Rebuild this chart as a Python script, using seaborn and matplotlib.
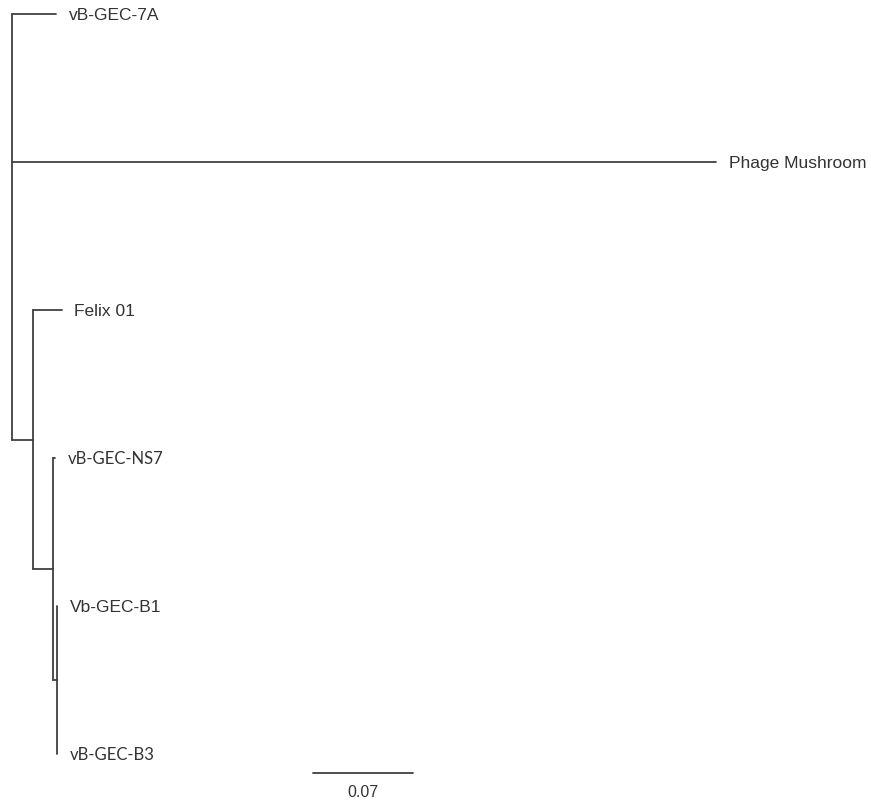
import numpy as np
import pandas as pd
import matplotlib
matplotlib.use("Agg")
import matplotlib.pyplot as plt
import seaborn as sns

# ---- tree data ----
leaf_names = ["vB-GEC-7A", "Phage Mushroom", "Felix 01", "vB-GEC-NS7", "Vb-GEC-B1", "vB-GEC-B3"]
leaf_parent = ["root", "root", "A", "B", "C", "C"]
leaf_length = [0.0308, 0.4928, 0.0203, 0.0017, 0.0003, 0.0003]
internal_nodes = ["A", "B", "C"]
internal_parent = ["root", "A", "B"]
internal_length = [0.0145, 0.0140, 0.0030]
scale_value = 0.07
scale_label = "0.07"

sns.set_theme(style="white")
plt.rcParams['font.family'] = ['Liberation Sans', 'DejaVu Sans']

# ---- compute layout ----
parent = {n: p for n, p in zip(leaf_names, leaf_parent)}
parent.update({n: p for n, p in zip(internal_nodes, internal_parent)})
blen = {n: l for n, l in zip(leaf_names, leaf_length)}
blen.update({n: l for n, l in zip(internal_nodes, internal_length)})
blen["root"] = 0.0

children = {}
for n, p in parent.items():
    children.setdefault(p, []).append(n)

xpos = {"root": 0.0}
def set_x(n):
    for c in children.get(n, []):
        xpos[c] = xpos[n] + blen[c]
        set_x(c)
set_x("root")

ypos = {n: i for i, n in enumerate(leaf_names)}
def set_y(n):
    if n in ypos:
        return ypos[n]
    ys = [set_y(c) for c in children[n]]
    ypos[n] = (min(ys) + max(ys)) / 2
    return ypos[n]
set_y("root")

rows = []
seg = 0
for n, p in parent.items():
    rows.append(dict(seg=seg, x=xpos[p], y=ypos[n]))
    rows.append(dict(seg=seg, x=xpos[n], y=ypos[n]))
    seg += 1
for n, ch in children.items():
    ys = [ypos[c] for c in ch]
    rows.append(dict(seg=seg, x=xpos[n], y=min(ys)))
    rows.append(dict(seg=seg, x=xpos[n], y=max(ys)))
    seg += 1
df = pd.DataFrame(rows)

# ---- figure ----
W, H = 871, 802
fig = plt.figure(figsize=(W / 100, H / 100), dpi=100)
ax = fig.add_axes([0, 0, 1, 1])
lc = "#404040"
sns.lineplot(data=df, x="x", y="y", units="seg", estimator=None, sort=False,
             color=lc, linewidth=1.3, ax=ax, legend=False)

px = 0.0007  # data units per pixel
ax.set_xlim(-12 * px, (W - 12) * px)
row = 148.0
ax.set_ylim((H - 14) / row, -14 / row)
ax.axis("off")

calibri_like = {"vB-GEC-NS7", "vB-GEC-B3"}
for n in leaf_names:
    if n in calibri_like:
        fam, fs = ['Lato', 'DejaVu Sans'], 12
    else:
        fam, fs = ['Liberation Sans', 'DejaVu Sans'], 12.5
    ax.annotate(n, (xpos[n], ypos[n]), xytext=(9, 0), textcoords="offset points",
                ha="left", va="center_baseline", fontsize=fs, color="#333333", family=fam)

# scale bar
sb_x0 = 301 * px
sb_y = (773 - 14) / row
sns.lineplot(x=[sb_x0, sb_x0 + scale_value], y=[sb_y, sb_y], color=lc, linewidth=1.3,
             ax=ax, legend=False)
ax.text(sb_x0 + scale_value / 2, (791 - 14) / row, scale_label, ha="center", va="center_baseline",
        fontsize=11.5, color="#333333")

fig.savefig("out.png", dpi=100, facecolor="white")
